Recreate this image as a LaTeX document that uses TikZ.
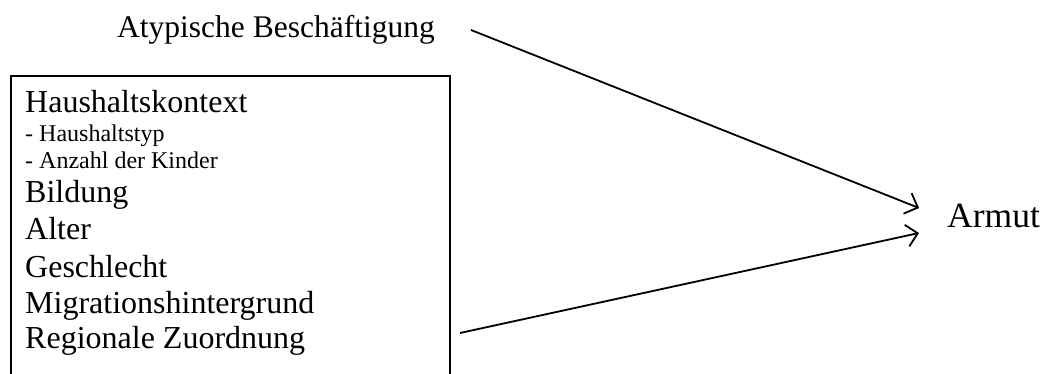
\documentclass[tikz,border=0pt]{standalone}
\usepackage{fontspec}
\setmainfont{Liberation Serif}
\usetikzlibrary{arrows.meta,calc}
\tikzset{
  big/.style={inner sep=0pt, anchor=base west, font=\fontsize{32}{38}\selectfont},
  small/.style={inner sep=0pt, anchor=base west, font=\fontsize{24}{28}\selectfont},
  arr/.style={line width=1.8pt, -{Straight Barb[length=11pt,width=22pt,line width=1.8pt]}},
  framebox/.style={draw, line width=1.6pt, inner sep=0pt, anchor=north west}
}
\begin{document}
\begin{tikzpicture}[x=1pt,y=-1pt]
\useasboundingbox (0,0) rectangle (1042,374);
\clip (0,0) rectangle (1042,374);
\node[framebox, minimum width=439pt, minimum height=320pt] (box) at (10,75) {};
\node[big, font=\fontsize{31.5}{38}\selectfont] (atyp) at (117,38) {Atypische Beschäftigung};
\node[big] (hk) at (25,113) {Haushaltskontext};
\node[small] (ht) at (25,142) {- Haushaltstyp};
\node[small] (ak) at (25,169) {- Anzahl der Kinder};
\node[big] (bi) at (25,203) {Bildung};
\node[big] (al) at (25,240) {Alter};
\node[big] (ge) at (25,277) {Geschlecht};
\node[big] (mi) at (25,313) {Migrationshintergrund};
\node[big] (re) at (25,348) {Regionale Zuordnung};
\node[big, font=\fontsize{35.5}{40}\selectfont] (armut) at (947,228) {Armut};
\coordinate (s1) at (471,30);
\coordinate (s2) at (460,333);
\coordinate (t1) at ($(armut.base west)+(-28,-20)$);
\coordinate (t2) at ($(armut.base west)+(-28,5)$);
\draw[arr] (s1) -- (t1);
\draw[arr] (s2) -- (t2);
\end{tikzpicture}
\end{document}
